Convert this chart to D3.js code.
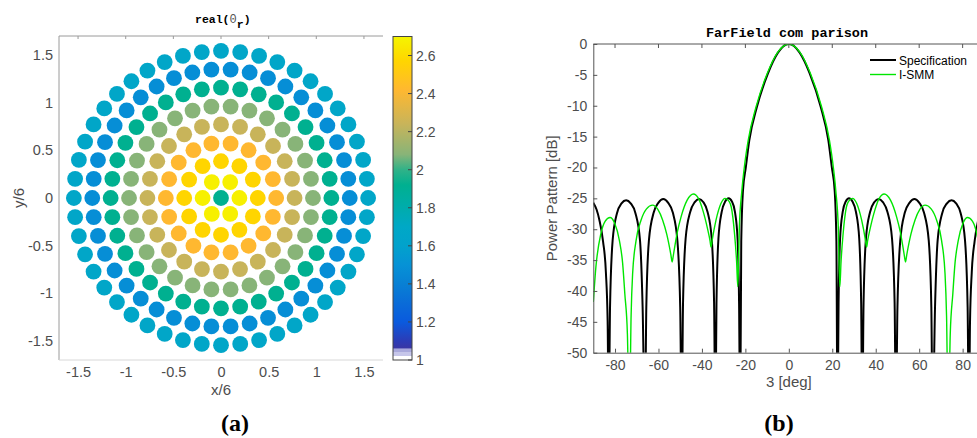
<!DOCTYPE html>
<html>
<head>
<meta charset="utf-8">
<script src="https://cdn.jsdelivr.net/npm/d3@7"></script>
<style>
  body { margin: 0; background: #fff; }
  svg text { font-family: "Liberation Sans", Arial, sans-serif; }
</style>
</head>
<body>
<svg id="chart" width="977" height="438"></svg>
<script>
// ---- data: (a) ring array of relative permittivity ----
const ringRadius = [0, 0.193, 0.386, 0.579, 0.772, 0.965, 1.158, 1.351, 1.544];
const ringCount  = [1, 6, 12, 18, 24, 30, 36, 42, 48];
const ringValue  = [1.92, 2.68, 2.57, 2.42, 2.24, 2.08, 1.92, 1.48, 1.66];
const posTicks   = [-1.5, -1, -0.5, 0, 0.5, 1, 1.5];
const epsTicks   = [1, 1.2, 1.4, 1.6, 1.8, 2, 2.2, 2.4, 2.6];
const cmapValues = [1.0, 1.02, 1.021, 1.04, 1.041, 1.06, 1.061, 1.1, 1.2, 1.3, 1.4, 1.5, 1.6, 1.7, 1.8, 1.92, 2.0, 2.08, 2.24, 2.42, 2.57, 2.7];
const cmapColors = ["#ffffff", "#ffffff", "#c6c6ea", "#c6c6ea", "#a9a9dc", "#a9a9dc", "#3a36a4", "#2c3cb6", "#0a5ade", "#0a6cd8", "#0880d4", "#0692d6", "#02a2cc", "#00a8c6", "#00acac", "#00b090", "#30b288", "#88b478", "#c8b45a", "#ffb830", "#ffd500", "#f5f500"];

// ---- data: (b) far field comparison ----
const thetaTicks = [-80, -60, -40, -20, 0, 20, 40, 60, 80];
const dbTicks = [0, -5, -10, -15, -20, -25, -30, -35, -40, -45, -50];
const specTheta = [-90, -88.5, -87.2, -85.5, -84.2, -83.4, -82.9, -82.3, -81.1, -79.1, -77, -74.9, -72.8, -70.6, -68.5, -67.3, -66.2,
  -65.6, -64.4, -62.2, -60, -57.8, -55.6, -53.4, -51.3, -50, -49.3, -48.7, -47.5, -45.4, -43.3, -41.3, -39.4, -37.4, -35.5, -34.4, -33.8,
  -33.3, -32.4, -30.9, -29.3, -27.7, -26.2, -24.8, -23.6, -22.9, -22.4, -21.9, -21.1, -19.8, -18.2, -14.7, -9.6, -5, -2.5, 0,
  2.5, 5, 9.6, 14.7, 18.2, 19.8, 21.1, 21.9, 22.4, 22.9, 23.6, 24.8, 26.2, 27.7, 29.3, 30.9, 32.4, 33.3,
  33.8, 34.4, 35.5, 37.4, 39.4, 41.3, 43.3, 45.4, 47.5, 48.7, 49.3, 50, 51.3, 53.4, 55.6, 57.8, 60, 62.2, 64.4, 65.6,
  66.2, 67.3, 68.5, 70.6, 72.8, 74.9, 77, 79.1, 81.1, 82.3, 82.9, 83.4, 84.2, 85.5, 87.2, 88.5, 90];
const specDb = [-25.7, -26.8, -28.5, -32, -37, -45, -62, -42.6, -31.8, -27.4, -25.8, -25.3, -25.8, -27.4, -31.8, -42.6, -62,
  -42.6, -31.8, -27.3, -25.7, -25.1, -25.7, -27.3, -31.8, -42.6, -62, -42, -31.5, -27.2, -25.6, -25.1, -25.6, -27.2, -31.5, -42, -62,
  -42, -31.5, -27.2, -25.5, -25.0, -25.5, -27.2, -31.5, -42, -62, -32, -23.7, -20, -15.6, -10.2, -4.75, -1.4, -0.35, 0,
  -0.35, -1.4, -4.75, -10.2, -15.6, -20, -23.7, -32, -62, -42, -31.5, -27.2, -25.5, -25.0, -25.5, -27.2, -31.5, -42,
  -62, -42, -31.5, -27.2, -25.6, -25.1, -25.6, -27.2, -31.5, -42, -62, -42.6, -31.8, -27.3, -25.7, -25.1, -25.7, -27.3, -31.8, -42.6,
  -62, -42.6, -31.8, -27.4, -25.8, -25.3, -25.8, -27.4, -31.8, -42.6, -62, -45, -37, -32, -28.5, -26.8, -25.7];
const ismmTheta = [-90, -88.8, -86.5, -84.5, -82.3, -80.2, -78, -76.5, -75.5, -74.3, -73.4, -72.6, -71.9, -70.3, -68, -65.5, -62.7,
  -60.3, -58.1, -56.2, -54.3, -53.7, -53.1, -51.4, -49.6, -46.8, -43.9, -41.6, -39.6, -37.3, -36.3, -35.8, -35.3, -33.5, -31.2,
  -29.3, -27.5, -26.5, -25, -24, -23.5, -23.1, -22.8, -21.6, -20.5, -18.7, -15.1, -9.9, -5.2, -2.5, 0,
  2.5, 5.2, 9.9, 15.1, 18.7, 20.5, 21.6, 22.8, 23.1, 23.5, 24, 25, 26.5, 27.5, 29.3,
  31.2, 33.5, 35.3, 35.8, 36.3, 37.3, 39.6, 41.6, 43.9, 46.8, 49.6, 51.4, 53.1, 53.7, 54.3, 56.2, 58.1, 60.3,
  62.7, 65.5, 68, 70.3, 71.9, 72.6, 73.4, 74.3, 75.5, 76.5, 78, 80.2, 82.3, 84.5, 86.5, 88.8, 90];
const ismmDb = [-41.8, -36.1, -30.7, -28.7, -28.1, -29, -31.8, -35.5, -40.4, -47, -62, -44, -37.2, -31.8, -28.5, -26.7, -26.1,
  -26.8, -28.5, -30.8, -34.1, -35.3, -34.1, -30.6, -28.0, -25.3, -24.3, -25.0, -26.9, -30.1, -31.8, -32.9, -31.8, -28.5, -25.8,
  -25.0, -25.5, -26.4, -30.7, -35.5, -39.3, -35, -30, -23.7, -20, -15.6, -10.2, -4.75, -1.4, -0.35, 0,
  -0.35, -1.4, -4.75, -10.2, -15.6, -20, -23.7, -30, -35, -39.3, -35.5, -30.7, -26.4, -25.5, -25.0,
  -25.8, -28.5, -31.8, -32.9, -31.8, -30.1, -26.9, -25.0, -24.3, -25.3, -28.0, -30.6, -34.1, -35.3, -34.1, -30.8, -28.5, -26.8,
  -26.1, -26.7, -28.5, -31.8, -37.2, -44, -62, -47, -40.4, -35.5, -31.8, -29, -28.1, -28.7, -30.7, -36.1, -41.8];

const svg = d3.select("#chart");
const textGrey = "#4d4d4d";
const monoFont = "'Liberation Mono', 'DejaVu Sans Mono', monospace";
const serifFont = "'Liberation Serif', 'DejaVu Serif', serif";

// ================= (a) =================
const ax = { left: 59, right: 383, top: 36, bottom: 360 };
const x1 = d3.scaleLinear().domain([-1.7, 1.7]).range([ax.left, ax.right]);
const y1 = d3.scaleLinear().domain([-1.7, 1.7]).range([ax.bottom, ax.top]);
const cmap = d3.scaleLinear().domain(cmapValues).range(cmapColors).clamp(true);

const cells = [];
ringRadius.forEach((r, k) => {
  for (let j = 0; j < ringCount[k]; j++) {
    const a = 2 * Math.PI * j / ringCount[k];
    cells.push({ x: r * Math.cos(a), y: r * Math.sin(a), v: ringValue[k] });
  }
});

const gA = svg.append("g");
gA.selectAll("circle.cell")
  .data(cells)
  .join("circle")
  .attr("class", "cell")
  .attr("cx", d => x1(d.x))
  .attr("cy", d => y1(d.y))
  .attr("r", 7.9)
  .attr("fill", d => cmap(d.v));

const frameA = "#9a9a9a";
gA.append("line").attr("x1", ax.left).attr("x2", ax.right).attr("y1", ax.top).attr("y2", ax.top).attr("stroke", frameA);
gA.append("line").attr("x1", ax.left).attr("x2", ax.left).attr("y1", ax.top).attr("y2", ax.bottom).attr("stroke", frameA);
gA.append("line").attr("x1", ax.left).attr("x2", ax.right).attr("y1", ax.bottom).attr("y2", ax.bottom).attr("stroke", "#d8d8d8");

const xAxisA = gA.append("g").attr("transform", `translate(0,${ax.bottom})`)
  .call(d3.axisBottom(x1).tickValues(posTicks).tickFormat(d => String(d)).tickSize(0).tickPadding(7));
const yAxisA = gA.append("g").attr("transform", `translate(${ax.left},0)`)
  .call(d3.axisLeft(y1).tickValues(posTicks).tickFormat(d => String(d)).tickSize(0).tickPadding(6));
[xAxisA, yAxisA].forEach(g => {
  g.select(".domain").remove();
  g.selectAll("text").attr("fill", textGrey).attr("font-size", 14.5);
});
gA.selectAll(null).data(posTicks).join("line")
  .attr("x1", d => x1(d)).attr("x2", d => x1(d))
  .attr("y1", ax.top).attr("y2", ax.top + 3)
  .attr("stroke", frameA);

gA.append("text").attr("x", x1(0)).attr("y", 395).attr("text-anchor", "middle")
  .attr("fill", textGrey).attr("font-size", 15).text("x/6");
gA.append("text").attr("transform", `translate(24,${y1(0)}) rotate(-90)`).attr("text-anchor", "middle")
  .attr("fill", textGrey).attr("font-size", 15).text("y/6");

const titleA = gA.append("text").attr("x", 195).attr("y", 23)
  .style("font-family", monoFont).attr("font-weight", "bold").attr("font-size", 11.5).attr("fill", "#000");
titleA.append("tspan").text("real(");
titleA.append("tspan").attr("font-weight", "normal").attr("fill", "#555").attr("font-size", 12).text("0");
titleA.append("tspan").attr("dy", 5).text("r");
titleA.append("tspan").attr("dy", -5).text(")");

gA.append("text").attr("x", 235).attr("y", 431).attr("text-anchor", "middle")
  .style("font-family", serifFont).attr("font-weight", "bold").attr("font-size", 24).attr("fill", "#000")
  .text("(a)");

// colorbar
const cb = { left: 393, right: 412, top: 36.5, bottom: 360 };
const cbScale = d3.scaleLinear().domain([1, 2.7]).range([cb.bottom, cb.top]);
const grad = svg.append("defs").append("linearGradient").attr("id", "cbGrad")
  .attr("x1", 0).attr("y1", 1).attr("x2", 0).attr("y2", 0);
grad.selectAll("stop").data(cmapValues).join("stop")
  .attr("offset", d => (d - 1) / 1.7)
  .attr("stop-color", (d, i) => cmapColors[i]);
gA.append("rect").attr("x", cb.left).attr("y", cb.top)
  .attr("width", cb.right - cb.left).attr("height", cb.bottom - cb.top)
  .attr("fill", "url(#cbGrad)").attr("stroke", "#444").attr("stroke-width", 1);
const cbAxis = gA.append("g").attr("transform", `translate(${cb.right},0)`)
  .call(d3.axisRight(cbScale).tickValues(epsTicks).tickFormat(d => String(d)).tickSize(0).tickPadding(4));
cbAxis.select(".domain").remove();
cbAxis.selectAll("text").attr("fill", textGrey).attr("font-size", 14);
gA.selectAll(null).data(epsTicks).join("line")
  .attr("x1", cb.right - 4).attr("x2", cb.right)
  .attr("y1", d => cbScale(d)).attr("y2", d => cbScale(d))
  .attr("stroke", "#444");

// ================= (b) =================
const bx = { left: 593.3, top: 44, bottom: 352.7 };
const x2 = d3.scaleLinear().domain([-90, 90]).range([bx.left, bx.left + 180 * 2.1725]);
const y2 = d3.scaleLinear().domain([-50, 0]).range([bx.bottom, bx.top]);
const gB = svg.append("g");

svg.select("defs").append("clipPath").attr("id", "clipB")
  .append("rect").attr("x", x2(-90)).attr("y", y2(0)).attr("width", x2(90) - x2(-90)).attr("height", y2(-50) - y2(0));

const line = d3.line().x(d => x2(d[0])).y(d => y2(d[1])).curve(d3.curveMonotoneX);
const specPts = specTheta.map((t, i) => [t, specDb[i]]);
const ismmPts = ismmTheta.map((t, i) => [t, ismmDb[i]]);

const plot = gB.append("g").attr("clip-path", "url(#clipB)");
plot.append("path").datum(specPts).attr("d", line)
  .attr("fill", "none").attr("stroke", "#000").attr("stroke-width", 2);
plot.append("path").datum(ismmPts).attr("d", line)
  .attr("fill", "none").attr("stroke", "#00e600").attr("stroke-width", 1.4);

const frameB = "#555";
const xAxisB = gB.append("g").attr("transform", `translate(0,${bx.bottom})`)
  .call(d3.axisBottom(x2).tickValues(thetaTicks).tickFormat(d => String(d)).tickSizeInner(-4).tickSizeOuter(0).tickPadding(7));
const yAxisB = gB.append("g").attr("transform", `translate(${bx.left},0)`)
  .call(d3.axisLeft(y2).tickValues(dbTicks).tickFormat(d => String(d)).tickSizeInner(-4).tickSizeOuter(0).tickPadding(6));
[xAxisB, yAxisB].forEach(g => {
  g.select(".domain").attr("stroke", frameB);
  g.selectAll(".tick line").attr("stroke", frameB);
  g.selectAll("text").attr("fill", textGrey).attr("font-size", 14);
});
gB.append("line").attr("x1", x2(-90)).attr("x2", x2(90)).attr("y1", bx.top).attr("y2", bx.top).attr("stroke", frameB);
gB.selectAll(null).data(thetaTicks).join("line")
  .attr("x1", d => x2(d)).attr("x2", d => x2(d))
  .attr("y1", bx.top).attr("y2", bx.top + 4)
  .attr("stroke", frameB);

gB.append("text").attr("x", x2(0)).attr("y", 387).attr("text-anchor", "middle")
  .attr("fill", textGrey).attr("font-size", 15).text("3 [deg]");
gB.append("text").attr("transform", `translate(557,${(bx.top + bx.bottom) / 2}) rotate(-90)`).attr("text-anchor", "middle")
  .attr("fill", textGrey).attr("font-size", 15).text("Power Pattern [dB]");
gB.append("text").attr("x", 787).attr("y", 37).attr("text-anchor", "middle")
  .style("font-family", monoFont).attr("font-weight", "bold").attr("font-size", 13.5).attr("fill", "#000")
  .text("FarField com parison");
gB.append("text").attr("x", 779).attr("y", 431).attr("text-anchor", "middle")
  .style("font-family", serifFont).attr("font-weight", "bold").attr("font-size", 24).attr("fill", "#000")
  .text("(b)");

// legend
const legendItems = [
  { name: "Specification", color: "#000", width: 2 },
  { name: "I-SMM", color: "#00e600", width: 1.4 }
];
const leg = gB.append("g").attr("transform", "translate(870,60)");
legendItems.forEach((d, i) => {
  const row = leg.append("g").attr("transform", `translate(0,${i * 14.5})`);
  row.append("line").attr("x1", 0).attr("x2", 26).attr("y1", 0).attr("y2", 0)
    .attr("stroke", d.color).attr("stroke-width", d.width);
  row.append("text").attr("x", 29).attr("y", 4.5).attr("font-size", 12).attr("fill", "#000").text(d.name);
});
</script>
</body>
</html>
